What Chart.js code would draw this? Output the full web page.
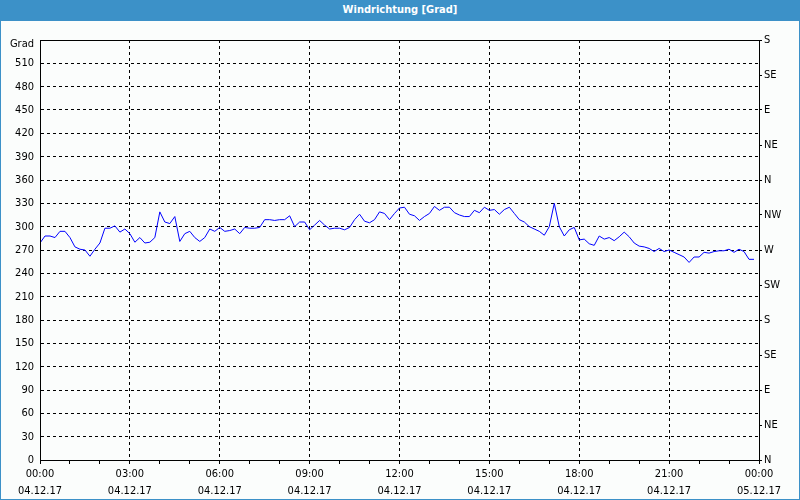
<!DOCTYPE html>
<html>
<head>
<meta charset="utf-8">
<script src="https://cdn.jsdelivr.net/npm/chart.js@4/dist/chart.umd.min.js"></script>
<style>
  html, body { margin: 0; padding: 0; background: #ffffff; }
  #wrap { position: relative; width: 800px; height: 500px; background: #fbfdfc; box-sizing: border-box; }
  #bar { position: absolute; left: 0; top: 0; width: 800px; height: 21px; background: #3c91c8;
         color: #fff; font: bold 11px "DejaVu Sans Condensed", "DejaVu Sans", sans-serif; text-align: center; line-height: 20px; }
  #frame { position: absolute; left: 0; top: 0; width: 800px; height: 500px; box-sizing: border-box;
           border: 1px solid #3c91c8; border-top: none; pointer-events: none; }
  canvas { position: absolute; left: 0; top: 0; }
</style>
</head>
<body>
<div id="wrap">
  <canvas id="c" width="800" height="500"></canvas>
  <div id="bar">Windrichtung [Grad]</div>
  <div id="frame"></div>
</div>
<script>
// Wind direction in degrees, one reading every 10 minutes from 04.12.17 00:00
const sampleMinutes = 10;
const windDirection = [
  279, 288, 288, 286, 294, 294, 286, 274, 271, 270, 262, 271,
  279, 298, 298, 301, 293, 297, 291, 280, 286, 279, 280, 286,
  319, 306, 304, 313, 281, 291, 294, 286, 281, 286, 297, 294,
  299, 294, 295, 297, 291, 299, 298, 298, 299, 309, 309, 308,
  309, 309, 314, 300, 306, 306, 296, 302, 308, 302, 297, 298,
  298, 296, 299, 309, 316, 307, 305, 309, 319, 317, 309, 317,
  324, 325, 316, 314, 308, 313, 317, 326, 321, 325, 325, 318,
  315, 313, 313, 321, 318, 325, 321, 322, 316, 322, 325, 317,
  309, 306, 300, 297, 294, 289, 300, 330, 300, 288, 296, 299,
  283, 284, 278, 276, 288, 284, 286, 282, 287, 293, 287, 279,
  275, 274, 272, 268, 272, 268, 270, 267, 264, 261, 254, 261,
  261, 267, 266, 268, 269, 269, 271, 267, 271, 268, 258, 258
];
const timeLabels = ["00:00", "03:00", "06:00", "09:00", "12:00", "15:00", "18:00", "21:00", "00:00"];
const dateLabels = ["04.12.17", "04.12.17", "04.12.17", "04.12.17", "04.12.17", "04.12.17", "04.12.17", "04.12.17", "05.12.17"];
const directionLabels = ["N", "NE", "E", "SE", "S", "SW", "W", "NW", "N", "NE", "E", "SE", "S"];
const leftTopLabel = "Grad";

const points = windDirection.map((v, i) => ({ x: i * sampleMinutes, y: v }));
const FAMILY = '"DejaVu Sans Condensed", "DejaVu Sans", sans-serif';
const FONT = { family: FAMILY, size: 11 };

const framePlugin = {
  id: 'frame',
  afterDraw(chart) {
    const { ctx, chartArea: a } = chart;
    ctx.save();
    ctx.strokeStyle = '#000';
    ctx.lineWidth = 1;
    ctx.setLineDash([]);
    ctx.strokeRect(Math.round(a.left) + 0.5, Math.round(a.top) + 0.5,
                   Math.round(a.right - a.left), Math.round(a.bottom - a.top));
    ctx.restore();
  }
};

new Chart(document.getElementById('c'), {
  type: 'line',
  data: {
    datasets: [{
      data: points,
      borderColor: '#0000ff',
      borderWidth: 1,
      pointRadius: 0,
      tension: 0,
      yAxisID: 'y'
    }]
  },
  options: {
    responsive: false,
    animation: false,
    layout: { padding: { left: 0, right: 0, top: 40, bottom: 0 } },
    plugins: { legend: { display: false }, tooltip: { enabled: false } },
    scales: {
      x: {
        type: 'linear', min: 0, max: 1440,
        afterFit(s) { s.height = 40; },
        ticks: {
          stepSize: 60, autoSkip: false, maxRotation: 0, padding: 2,
          color: '#000', font: { family: FAMILY, size: 11, lineHeight: 1.55 },
          callback(v) {
            if (v % 180 !== 0) return '';
            const k = v / 180;
            return [timeLabels[k], dateLabels[k]];
          }
        },
        grid: {
          color: (c) => (c.tick && c.tick.value % 180 === 0) ? '#000' : 'rgba(0,0,0,0)',
          tickColor: '#000', tickLength: 4, lineWidth: 1
        },
        border: { display: true, color: '#000', dash: [3, 3] }
      },
      y: {
        position: 'left', min: 0, max: 540,
        afterFit(s) { s.width = 40; },
        ticks: {
          stepSize: 30, padding: 6, color: '#000',
          font: (c) => (c.tick && c.tick.value === 540)
            ? { family: FAMILY, size: 11, lineHeight: 0.8 }
            : { family: FAMILY, size: 11 },
          callback(v) { return v === 540 ? ['', leftTopLabel] : String(v); }
        },
        grid: { color: '#000', drawTicks: false, lineWidth: 1 },
        border: { display: true, color: '#000', dash: [3, 3] }
      },
      y2: {
        position: 'right', min: 0, max: 540,
        afterFit(s) { s.width = 41; },
        ticks: {
          stepSize: 45, padding: 2, color: '#000', font: FONT,
          callback(v) { return directionLabels[Math.round(v / 45)]; }
        },
        grid: { drawOnChartArea: false, color: '#000', tickColor: '#000', tickLength: 3 },
        border: { display: true, color: '#000' }
      }
    }
  },
  plugins: [framePlugin]
});
</script>
</body>
</html>
